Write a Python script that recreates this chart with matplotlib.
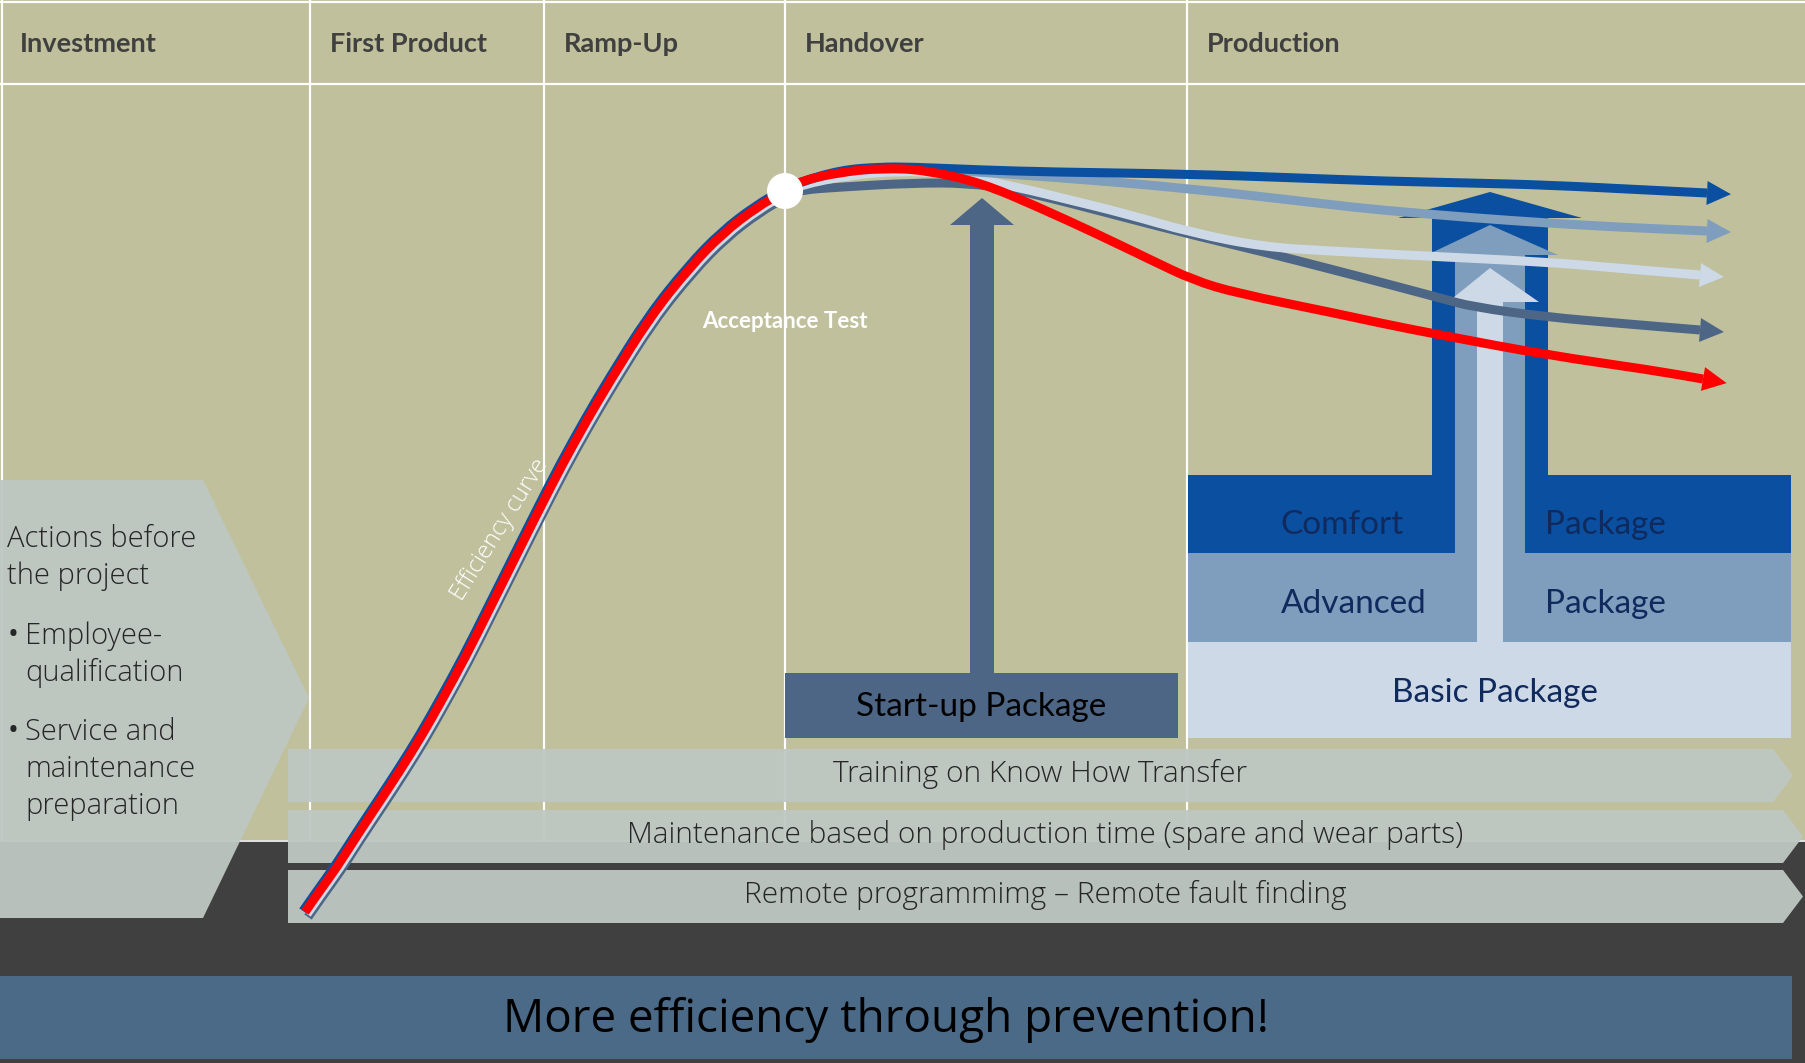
import numpy as np
import matplotlib.pyplot as plt
from matplotlib.patches import Polygon, Rectangle, Circle, PathPatch
from matplotlib.path import Path

# ── Data ──────────────────────────────────────────────────────────────────────
phases = ['Investment', 'First Product', 'Ramp-Up', 'Handover', 'Production']
phase_edges = [0, 310, 544, 785, 1187]

before_lines = ['Actions before', 'the project']
before_bullets = [['Employee-', 'qualification'],
                  ['Service and', 'maintenance', 'preparation']]

services = ['Training on Know How Transfer',
            'Maintenance based on production time (spare and wear parts)',
            'Remote programmimg \u2013 Remote fault finding']

packages = ['Comfort', 'Advanced', 'Basic']
startup_label = 'Start-up Package'
slogan = 'More efficiency through prevention!'

# rising part of the efficiency curve up to the acceptance test
rise_x = [305, 321, 337, 358, 380, 401, 421, 442, 465, 490, 514, 538, 562,
          587, 610, 650, 690, 723, 757, 785]
rise_y = [912, 889, 867, 834, 801, 769, 737, 700, 658, 608, 560, 512, 465,
          420, 381, 317, 267, 233, 207, 191]

# branches after acceptance
comfort_x = [800, 841, 880, 911, 982, 1050, 1186, 1299, 1380, 1470, 1547, 1647, 1707]
comfort_y = [182, 170, 167, 167, 170, 172, 174, 178, 181, 183, 185, 190, 193]

advanced_x = [800, 841, 900, 947, 1052, 1186, 1334, 1380, 1475, 1547, 1616, 1707]
advanced_y = [182, 171, 168, 170, 177, 188, 205, 210, 218, 223, 227, 231]

basic_x = [800, 850, 900, 947, 1017, 1070, 1123, 1193, 1264, 1330, 1405, 1547, 1616, 1700]
basic_y = [185, 175, 171, 173, 187, 200, 213, 233, 247, 251, 255, 262, 268, 275]

startup_x = [800, 841, 911, 968, 1017, 1070, 1123, 1193, 1264, 1334, 1380, 1440,
             1473, 1547, 1616, 1700]
startup_y = [190, 187, 183, 183, 190, 203, 217, 235, 252, 270, 282, 298,
             307, 317, 323, 330]

none_x = [800, 841, 883, 925, 982, 1038, 1095, 1151, 1193, 1236, 1334, 1380,
          1440, 1547, 1651, 1703]
none_y = [181, 172, 168, 170, 183, 207, 233, 260, 280, 293, 313, 323,
          335, 355, 370, 379]

# ── Style ─────────────────────────────────────────────────────────────────────
W, H = 1805, 1063
BEIGE = '#C0C09D'
DARK = '#404040'
C_DARK = '#0A4FA0'
C_MED = '#7F9DBD'
C_LIGHT = '#CDD9E6'
C_SLATE = '#4E6685'
C_RED = '#FF0000'
CHEV = (190/255, 200/255, 194/255)
NAVY = '#102A5E'
CAL = ['Lato', 'DejaVu Sans']
SEG = ['Open Sans', 'DejaVu Sans']

fig = plt.figure(figsize=(W/100, H/100), dpi=100)
ax = fig.add_axes([0, 0, 1, 1])
ax.set_xlim(0, W)
ax.set_ylim(H, 0)
ax.axis('off')

# background
ax.add_patch(Rectangle((0, 0), W, 840, color=BEIGE, lw=0, zorder=0))
ax.add_patch(Rectangle((0, 840), W, H - 840, color=DARK, lw=0, zorder=0))

# grid lines
ax.plot([0, W], [84, 84], color='white', lw=1.6, zorder=1)
ax.plot([0, W], [1.5, 1.5], color='white', lw=1.6, zorder=1)
ax.plot([1.5, 1.5], [0, 840], color='white', lw=1.6, zorder=1)
ax.plot([0, W], [841, 841], color='white', lw=1.2, zorder=1)
for xe in phase_edges[1:]:
    ax.plot([xe, xe], [0, 840], color='white', lw=1.6, zorder=1)
for xe, name in zip(phase_edges, phases):
    ax.text(xe + 20, 44, name, fontsize=19.5, fontweight='bold', color='#404040',
            family=CAL, va='center', ha='left', zorder=2)

# left chevron "Actions before the project"
ax.add_patch(Polygon([(0, 480), (203, 480), (309, 698), (203, 918), (0, 918)],
                     closed=True, facecolor=CHEV, alpha=0.95, lw=0, zorder=3))
y = 539
for line in before_lines:
    ax.text(7, y, line, fontsize=21, fontweight='light', color='#262626',
            family=SEG, va='center', zorder=4)
    y += 37
y += 23
for bullet in before_bullets:
    ax.text(8, y, '\u2022', fontsize=21, color='#262626', family=SEG,
            va='center', zorder=4)
    for line in bullet:
        ax.text(25, y, line, fontsize=21, fontweight='light', color='#262626',
                family=SEG, va='center', zorder=4)
        y += 37
    y += 22

# service chevrons
row_top = [749, 810, 870]
row_right = [1773, 1783, 1783]
for top, right, label in zip(row_top, row_right, services):
    h = 53
    ax.add_patch(Polygon([(288, top), (right, top), (right + 20, top + h/2),
                          (right, top + h), (288, top + h)], closed=True,
                         facecolor=CHEV, alpha=0.95, lw=0, zorder=3))
    ax.text((288 + right + 20)/2, top + h/2 - 2, label, fontsize=21.5,
            fontweight='light', color='#262626', family=SEG,
            ha='center', va='center', zorder=4)

# slogan banner
ax.add_patch(Rectangle((0, 976), 1792, 83, color='#4B6A88', lw=0, zorder=3))
ax.text(886, 1020, slogan, fontsize=33, color='black', family=SEG,
        ha='center', va='center', zorder=4)

# start-up package box and arrow
ax.add_patch(Rectangle((785, 673), 393, 65, color=C_SLATE, lw=0, zorder=3))
ax.text(981, 707, startup_label, fontsize=24, color='black', family=CAL,
        ha='center', va='center', zorder=4)
ax.add_patch(Polygon([(970, 673), (970, 225), (950, 225), (982, 198),
                      (1014, 225), (994, 225), (994, 673)], closed=True,
                     color=C_SLATE, lw=0, zorder=3))

# stacked packages with their arrows
ax.add_patch(Rectangle((1188, 475), 603, 78, color=C_DARK, lw=0, zorder=3))
ax.add_patch(Polygon([(1432, 475), (1432, 218), (1398, 218), (1490, 192),
                      (1582, 218), (1548, 218), (1548, 475)], closed=True,
                     color=C_DARK, lw=0, zorder=3))
ax.add_patch(Rectangle((1188, 553), 603, 89, color=C_MED, lw=0, zorder=3))
ax.add_patch(Polygon([(1455, 553), (1455, 255), (1427, 255), (1490, 225),
                      (1558, 255), (1525, 255), (1525, 553)], closed=True,
                     color=C_MED, lw=0, zorder=3))
ax.add_patch(Rectangle((1188, 642), 603, 96, color=C_LIGHT, lw=0, zorder=3))
ax.add_patch(Polygon([(1477, 642), (1477, 302), (1448, 302), (1490, 268),
                      (1539, 302), (1503, 302), (1503, 642)], closed=True,
                     color=C_LIGHT, lw=0, zorder=3))

ax.text(1342, 525, packages[0], fontsize=24, color=NAVY, family=CAL,
        ha='center', va='center', zorder=4)
ax.text(1354, 604, packages[1], fontsize=24, color=NAVY, family=CAL,
        ha='center', va='center', zorder=4)
for yy in (525, 604):
    ax.text(1605, yy, 'Package', fontsize=24, color=NAVY, family=CAL,
            ha='center', va='center', zorder=4)
ax.text(1495, 693, packages[2] + ' Package', fontsize=24, color=NAVY,
        family=CAL, ha='center', va='center', zorder=4)


# efficiency curves
def smooth(xs, ys):
    # quadratic bezier through the midpoints, the points act as control points
    pts = list(zip(xs, ys))
    verts, codes = [pts[0]], [Path.MOVETO]
    for i in range(1, len(pts) - 1):
        mid = ((pts[i][0] + pts[i+1][0]) / 2, (pts[i][1] + pts[i+1][1]) / 2)
        verts += [pts[i], mid]
        codes += [Path.CURVE3, Path.CURVE3]
    verts.append(pts[-1])
    codes.append(Path.LINETO)
    return Path(verts, codes)


def head(xs, ys, color, z, length=24, half=12):
    dx, dy = xs[-1] - xs[-2], ys[-1] - ys[-2]
    n = np.hypot(dx, dy)
    ux, uy = dx / n, dy / n
    bx, by = xs[-1], ys[-1]
    pts = [(bx - uy*half, by + ux*half), (bx + ux*length, by + uy*length),
           (bx + uy*half, by - ux*half)]
    ax.add_patch(Polygon(pts, closed=True, color=color, lw=0, zorder=z))


curves = [
    (startup_x, startup_y, C_SLATE, (3, 5)),
    (basic_x, basic_y, C_LIGHT, (2, 2)),
    (advanced_x, advanced_y, C_MED, (-1, -2)),
    (comfort_x, comfort_y, C_DARK, (-2, -1)),
    (none_x, none_y, C_RED, (0, 0)),
]
for i, (bx_, by_, col, (ox, oy)) in enumerate(curves):
    xs = [v + ox for v in rise_x] + bx_
    ys = [v + oy for v in rise_y] + by_
    z = 5 + i
    ax.add_patch(PathPatch(smooth(xs, ys), facecolor='none', edgecolor=col,
                           lw=6.5, capstyle='butt', joinstyle='round', zorder=z))
    head(bx_, by_, col, z)

ax.add_patch(Circle((785, 191), 18, color='white', lw=0, zorder=12))
ax.text(785, 321, 'Acceptance Test', fontsize=16, fontweight='bold',
        color='white', family=CAL, ha='center', va='center', zorder=12)
ax.text(500, 530, 'Efficiency curve', fontsize=17, fontweight='light',
        color='white', family=SEG, rotation=58, rotation_mode='anchor',
        ha='center', va='center', zorder=12)

fig.savefig('out.png', dpi=100, facecolor=BEIGE)
